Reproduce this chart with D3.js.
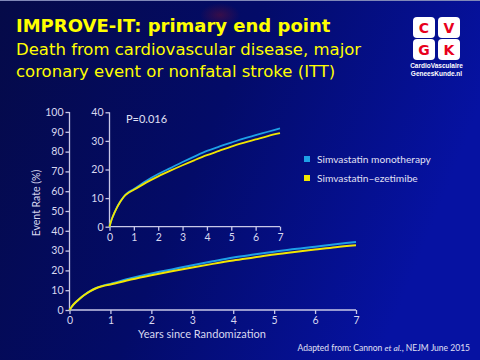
<!DOCTYPE html>
<html><head><meta charset="utf-8">
<script src="https://cdn.jsdelivr.net/npm/d3@7"></script>
<style>html,body{margin:0;padding:0;background:#000850;}svg{display:block;}</style>
</head><body>
<svg id="c" width="480" height="360"></svg>
<script>
// ---- data ----
const years = [0, 0.05, 0.1, 0.2, 0.3, 0.4, 0.5, 0.65, 0.8, 1, 1.5, 2, 2.5, 3, 3.5, 4, 4.5, 5, 5.5, 6, 6.5, 7];
const monotherapy = [0, 1.5, 2.8, 4.8, 6.7, 8.2, 9.5, 11.1, 12.2, 13.2, 16.0, 18.4, 20.5, 22.6, 24.6, 26.5, 28.0, 29.4, 30.8, 32.0, 33.2, 34.4];
const ezetimibe   = [0, 1.5, 2.8, 4.8, 6.6, 8.1, 9.4, 11.0, 12.0, 12.9, 15.4, 17.6, 19.6, 21.5, 23.3, 25.0, 26.5, 28.0, 29.3, 30.5, 31.7, 32.7];
const seriesNames = ["Simvastatin monotherapy", "Simvastatin\u2013ezetimibe"];
const xTicks = [0, 1, 2, 3, 4, 5, 6, 7];
const mainYTicks = [0, 10, 20, 30, 40, 50, 60, 70, 80, 90, 100];
const insetYTicks = [0, 10, 20, 30, 40];
const titleText = "IMPROVE-IT: primary end point";
const subtitleLines = ["Death from cardiovascular disease, major", "coronary event or nonfatal stroke (ITT)"];
const pValue = "P=0.016";

const colors = ["#1ea0e6", "#f2e600"];
const axisColor = "#c8c8e8";
const font = "Lato, 'Open Sans', sans-serif";

const svg = d3.select("#c");
const defs = svg.append("defs");
const g1 = defs.append("linearGradient").attr("id","bg").attr("x1","0").attr("y1","0").attr("x2","1").attr("y2","0.3");
g1.append("stop").attr("offset","0").attr("stop-color","#050a48");
g1.append("stop").attr("offset","0.5").attr("stop-color","#030b68");
g1.append("stop").attr("offset","1").attr("stop-color","#0612a2");
svg.append("rect").attr("width",480).attr("height",360).attr("fill","url(#bg)");
const rg = defs.append("radialGradient").attr("id","blob");
rg.append("stop").attr("offset","0").attr("stop-color","#6a1030").attr("stop-opacity",0.5);
rg.append("stop").attr("offset","1").attr("stop-color","#6a1030").attr("stop-opacity",0);
svg.append("ellipse").attr("cx",220).attr("cy",15).attr("rx",20).attr("ry",12).attr("fill","url(#blob)");
svg.append("line").attr("x1",0).attr("x2",480).attr("y1",0.5).attr("y2",0.5).attr("stroke","#8088b8").attr("stroke-width",1);

// titles
svg.append("text").attr("x",16).attr("y",32).attr("fill","#ffff00")
  .attr("font-family","'DejaVu Sans', Verdana, sans-serif").attr("font-weight","bold").attr("font-size",18).text(titleText);
subtitleLines.forEach((t,i)=>{
  svg.append("text").attr("x",16).attr("y",55+i*22).attr("fill","#ffff00")
    .attr("font-family","'DejaVu Sans', Verdana, sans-serif").attr("font-size",16.5).text(t);
});

// logo
const logo = svg.append("g");
const letters = [["C",413,17],["V",438,17],["G",413,39],["K",438,39]];
letters.forEach(([l,x,y])=>{
  logo.append("rect").attr("x",x).attr("y",y).attr("width",22).attr("height",21).attr("rx",4).attr("fill","#ffffff");
  logo.append("text").attr("x",x+11).attr("y",y+16).attr("text-anchor","middle").attr("fill","#e8001c")
    .attr("font-family","'DejaVu Sans', sans-serif").attr("font-weight","bold").attr("font-size",14).text(l);
});
logo.append("text").attr("x",436.5).attr("y",68).attr("text-anchor","middle").attr("fill","#fff")
  .attr("font-family","'Liberation Sans Narrow', 'Liberation Sans', sans-serif").attr("font-weight","bold").attr("font-size",6.5).text("CardioVasculaire");
logo.append("text").attr("x",436.5).attr("y",76).attr("text-anchor","middle").attr("fill","#fff")
  .attr("font-family","'Liberation Sans Narrow', 'Liberation Sans', sans-serif").attr("font-weight","bold").attr("font-size",6.5).text("GeneesKunde.nl");

function panel(x0,x1,y0,y1,yMax,yTicks,labelSize,strokeW,tickLabelDy){
  const x = d3.scaleLinear().domain([0,7]).range([x0,x1]);
  const y = d3.scaleLinear().domain([0,yMax]).range([y0,y1]);
  const gx = svg.append("g").attr("transform",`translate(0,${y0})`)
    .call(d3.axisBottom(x).tickValues(xTicks).tickSize(4).tickPadding(tickLabelDy).tickFormat(d3.format("d")));
  const gy = svg.append("g").attr("transform",`translate(${x0},0)`)
    .call(d3.axisLeft(y).tickValues(yTicks).tickSize(4).tickPadding(2).tickFormat(d3.format("d")));
  [gx,gy].forEach(g=>{
    g.select(".domain").attr("stroke",axisColor).attr("stroke-width",1.3);
    g.selectAll(".tick line").attr("stroke",axisColor).attr("stroke-width",1.3);
    g.selectAll(".tick text").attr("fill","#d8d8f0").attr("font-family",font).attr("font-size",labelSize);
  });
  gx.select(".domain").attr("d",`M${x0},0H${x1}`);
  gy.select(".domain").attr("d",`M0,${y0}V${y1}`);
  const line = d3.line().x((d,i)=>x(years[i])).y(d=>y(d)).curve(d3.curveMonotoneX);
  [monotherapy, ezetimibe].forEach((s,k)=>{
    svg.append("path").datum(s).attr("d",line).attr("fill","none").attr("stroke",colors[k]).attr("stroke-width",strokeW);
  });
  return {x,y};
}

// main chart
panel(69.5,356,310,112,100,mainYTicks,10.5,2,3);
// inset
panel(109.5,280,226.7,112.3,40,insetYTicks,10.5,1.8,3);

svg.append("text").attr("x",126).attr("y",123).attr("fill","#e0e0f4").attr("font-family",font).attr("font-size",11).text(pValue);

// axis titles
svg.append("text").attr("x",138).attr("y",338).attr("fill","#d8d8f0").attr("font-family",font).attr("font-size",11).text("Years since Randomization");
svg.append("text").attr("transform","translate(40,203) rotate(-90)").attr("text-anchor","middle").attr("fill","#d8d8f0")
  .attr("font-family",font).attr("font-size",10.5).text("Event Rate (%)");

// legend
seriesNames.forEach((n,i)=>{
  const yy = 159 + i*19;
  svg.append("rect").attr("x",304).attr("y",yy-3).attr("width",6).attr("height",6).attr("fill",colors[i]);
  svg.append("text").attr("x",317).attr("y",yy+3.5).attr("fill","#e0e0f4").attr("font-family",font).attr("font-size",10.2).text(n);
});

// footnote
const fn = svg.append("text").attr("x",470).attr("y",351).attr("text-anchor","end").attr("fill","#e0e0f4")
  .attr("font-family",font).attr("font-size",8.5);
fn.append("tspan").text("Adapted from: Cannon ");
fn.append("tspan").attr("font-style","italic").text("et al.");
fn.append("tspan").text(", NEJM June 2015");
</script>
</body></html>
